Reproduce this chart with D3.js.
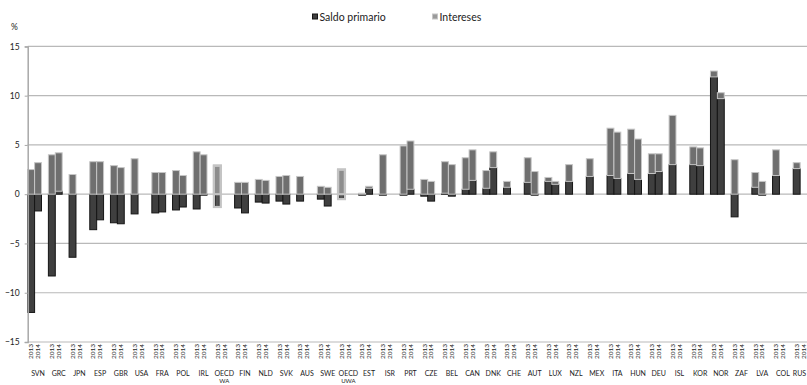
<!DOCTYPE html>
<html>
<head>
<meta charset="utf-8">
<script src="https://cdn.jsdelivr.net/npm/d3@7"></script>
<style>
  html, body { margin: 0; padding: 0; background: #fff; }
  svg { display: block; font-family: Lato, "Open Sans", "Liberation Sans", sans-serif; }
</style>
</head>
<body>
<svg id="chart" width="807" height="385"></svg>
<script>
// Countries (two years each), ordered as in the publication
const countries = ["SVN","GRC","JPN","ESP","GBR","USA","FRA","POL","IRL","OECD WA","FIN","NLD","SVK","AUS","SWE","OECD UWA","EST","ISR","PRT","CZE","BEL","CAN","DNK","CHE","AUT","LUX","NZL","MEX","ITA","HUN","DEU","ISL","KOR","NOR","ZAF","LVA","COL","RUS"];
const years = ["2013", "2014"];

// Primary balance and interest payments, % of GDP (null = not available)
const primario2013  = [-12.0,-8.3,-6.4,-3.6,-2.9,-2.0,-1.9,-1.6,-1.5,-1.3,-1.4,-0.8,-0.7,-0.7,-0.5,-0.5,-0.1,-0.1,-0.1,-0.2,0.1,0.5,0.6,0.7,1.2,1.3,1.3,1.8,1.9,2.1,2.1,3.0,3.0,11.9,-2.3,0.7,1.9,2.6];
const intereses2013 = [2.5,4.0,2.0,3.3,2.9,3.6,2.2,2.4,4.3,2.9,1.2,1.5,1.8,1.8,0.8,2.5,0.1,4.0,4.9,1.5,3.2,3.2,1.8,0.6,2.5,0.4,1.7,1.8,4.8,4.5,2.0,5.0,1.8,0.6,3.5,1.5,2.6,0.6];
const primario2014  = [-1.7,0.3,null,-2.6,-3.0,null,-1.8,-1.3,-0.1,null,-1.9,-0.9,-1.0,null,-1.2,null,0.6,null,0.5,-0.7,-0.2,1.4,2.7,null,-0.1,1.0,null,null,1.6,1.5,2.3,null,2.9,9.7,null,-0.1,null,null];
const intereses2014 = [3.2,3.9,null,3.3,2.7,null,2.2,1.9,4.0,null,1.2,1.4,1.9,null,0.7,null,0.2,null,4.9,1.3,3.0,3.1,1.6,null,2.3,0.3,null,null,4.7,4.1,1.8,null,1.8,0.6,null,1.3,null,null];

const yTicks = [-15, -10, -5, 0, 5, 10, 15];
const seriesNames = ["Saldo primario", "Intereses"];

// One row per country/year slot
const rows = [];
countries.forEach((c, i) => {
  [[primario2013, intereses2013], [primario2014, intereses2014]].forEach((pair, j) => {
    const p = pair[0][i], r = pair[1][i];
    rows.push({ country: c, year: years[j], present: p !== null, primario: p ?? 0, intereses: r ?? 0, oecd: c.startsWith("OECD") });
  });
});

const W = 807;
const svg = d3.select("#chart");
const left = 27.7, groupW = 20.69;
const x0 = d3.scaleBand().domain(countries).range([left, left + groupW * countries.length]).padding(0);
// three slots per country: the two years plus an empty spacer
const x1 = d3.scaleBand().domain([...years, "gap"]).range([0, x0.bandwidth()]).padding(0);
const y = d3.scaleLinear().domain([-15, 15]).range([342, 46.4]);

// Gridlines
svg.append("g").selectAll("line").data(yTicks).join("line")
  .attr("x1", left).attr("x2", W)
  .attr("y1", d => y(d)).attr("y2", d => y(d))
  .attr("stroke", "#b9b9b9").attr("stroke-width", 1.2);

// Diverging stack: negative primary balances below zero, interest stacked on top
const stack = d3.stack().keys(["primario", "intereses"]).offset(d3.stackOffsetDiverging);
const stacked = stack(rows);

const styles = {
  primario:  { fill: "#3f3f3f", stroke: "#151515", oFill: "#555555", oStroke: "#2a2a2a" },
  intereses: { fill: "#6f6f6f", stroke: "#c6c6c6", oFill: "#8d8d8d", oStroke: "#c4c4c4" }
};

const bars = svg.append("g");
stacked.forEach(layer => {
  const st = styles[layer.key];
  const inset = d => (d.row.oecd && layer.key === "primario" ? 1.5 : 0);
  bars.append("g").selectAll("rect")
    .data(layer.map((d, i) => ({ seg: d, row: rows[i] })).filter(d => d.row.present))
    .join("rect")
    .attr("x", d => x0(d.row.country) + x1(d.row.year) + inset(d))
    .attr("width", d => x1.bandwidth() - 2 * inset(d))
    .attr("y", d => y(Math.max(d.seg[0], d.seg[1])))
    .attr("height", d => Math.abs(y(d.seg[0]) - y(d.seg[1])))
    .attr("fill", d => d.row.oecd ? st.oFill : st.fill)
    .attr("stroke", d => d.row.oecd ? st.oStroke : st.stroke)
    .attr("stroke-width", d => d.row.oecd && layer.key === "intereses" ? 2.2 : 1);
});

// OECD aggregates: light outline around the whole bar
bars.append("g").selectAll("rect")
  .data(rows.filter(r => r.oecd && r.present))
  .join("rect")
  .attr("x", d => x0(d.country) + x1(d.year))
  .attr("width", x1.bandwidth())
  .attr("y", d => y(d.intereses + Math.max(0, d.primario)))
  .attr("height", d => y(Math.min(0, d.primario)) - y(d.intereses + Math.max(0, d.primario)))
  .attr("fill", "none").attr("stroke", "#c4c4c4").attr("stroke-width", 2.2);

// Y axis
const yAxis = svg.append("g").attr("transform", `translate(${left},0)`)
  .call(d3.axisLeft(y).tickValues(yTicks).tickSize(3).tickPadding(5).tickFormat(d => d < 0 ? "\u2212" + Math.abs(d) : d));
yAxis.select(".domain").attr("stroke", "#a8a8a8").attr("stroke-width", 1.5);
yAxis.selectAll(".tick line").attr("stroke", "#a8a8a8");
yAxis.selectAll(".tick text").attr("font-size", 8.5).attr("fill", "#222").attr("font-family", "Lato, sans-serif");

svg.append("text").attr("x", 11).attr("y", 30).attr("font-size", 8.5).attr("fill", "#222").text("%");

// Year labels (rotated)
svg.append("g").selectAll("text").data(rows).join("text")
  .attr("transform", d => `translate(${x0(d.country) + x1(d.year) + x1.bandwidth() / 2},344) rotate(-90)`)
  .attr("text-anchor", "end").attr("dy", "0.35em")
  .attr("font-size", 6.5).attr("fill", "#222")
  .text(d => d.year);

// Country labels (kept inside the right edge; two-word names wrap)
const labelX = d => Math.min(x0(d) + x0.bandwidth() / 2, W - 7.5);
const cl = svg.append("g").selectAll("text").data(countries).join("text")
  .attr("x", labelX)
  .attr("y", 376)
  .attr("text-anchor", "middle").attr("font-size", 7).attr("fill", "#222");
cl.each(function(d) {
  const t = d3.select(this);
  d.split(" ").forEach((p, k) => {
    t.append("tspan").attr("x", labelX(d)).attr("dy", k === 0 ? 0 : 6.8)
      .attr("font-size", k === 0 ? 7 : 6).text(p);
  });
});

// Legend
const legend = svg.append("g");
const legendItems = [
  { name: seriesNames[0], x: 312.5, fill: "#3f3f3f", stroke: "#151515" },
  { name: seriesNames[1], x: 432.5, fill: "#9a9a9a", stroke: "#c6c6c6" }
];
legendItems.forEach(it => {
  legend.append("rect").attr("x", it.x).attr("y", 14).attr("width", 5).attr("height", 5)
    .attr("fill", it.fill).attr("stroke", it.stroke).attr("stroke-width", 1);
  legend.append("text").attr("x", it.x + 7).attr("y", 20.5).attr("font-size", 10.5).attr("fill", "#222").text(it.name);
});
</script>
</body>
</html>
